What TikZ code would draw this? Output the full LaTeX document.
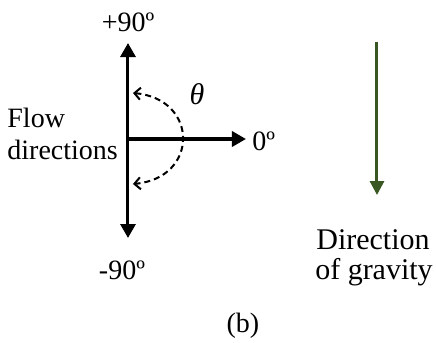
\documentclass[tikz,border=0pt]{standalone}
\usepackage{fontspec}
\setmainfont{Liberation Serif}
\usetikzlibrary{arrows.meta}
\definecolor{gravgreen}{RGB}{56,87,35}
\begin{document}
\begin{tikzpicture}[x=0.5pt,y=-0.5pt,
  lbl/.style={inner sep=0pt,font=\fontsize{14}{16}\selectfont},
  axis/.style={line width=1.5pt,-{Triangle[length=7pt,width=7.5pt]}},
  swing/.style={line width=1pt,dashed,dash pattern=on 3pt off 2pt,{Straight Barb[length=3pt,width=6pt]}-{Straight Barb[length=3pt,width=6pt]}}]
\useasboundingbox (0,0) rectangle (436,343);
\coordinate (o) at (128,139);
\coordinate (up) at (128,43);
\coordinate (down) at (128,238);
\coordinate (right) at (246,139);
\draw[axis] (o) -- (up);
\draw[axis] (o) -- (down);
\draw[axis,line width=1.8pt] (o) -- (right);
\coordinate (at) at (133,93);
\coordinate (ab) at (133,184);
\draw[swing] (at) .. controls (199,99) and (199,178) .. (ab);
\node[lbl] (p90) at (128,22) {+90º};
\node[lbl] (m90) at (122,270) {-90º};
\node[lbl,anchor=west] (zero) at (252,141) {0º};
\node[lbl,font=\fontsize{15}{16}\selectfont] (th) at (197,94) {\textit{θ}};
\node[lbl,anchor=west] (flow) at (7,118) {Flow};
\node[lbl,anchor=west] (dir) at (7,150) {directions};
\coordinate (gt) at (377,42);
\coordinate (gb) at (377,195);
\draw[gravgreen,line width=1.5pt,-{Triangle[length=7pt,width=7pt]}] (gt) -- (gb);
\node[lbl,font=\fontsize{15}{16}\selectfont] (d1) at (373,240) {Direction};
\node[lbl,font=\fontsize{15}{16}\selectfont] (d2) at (374,272) {of gravity};
\node[lbl] (b) at (243,326) {(b)};
\end{tikzpicture}
\end{document}
